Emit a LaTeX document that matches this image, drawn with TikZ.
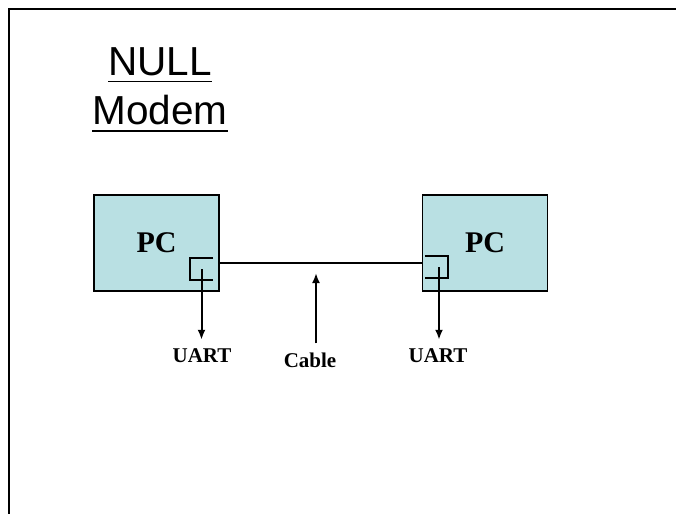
\documentclass[tikz,border=0pt]{standalone}
\usepackage{fontspec}
\setmainfont{Liberation Serif}
\newfontfamily\titlefont{Liberation Sans}
\usetikzlibrary{positioning, arrows.meta}
\definecolor{pccol}{RGB}{185, 224, 227}
\tikzset{
  pcbox/.style={draw, line width=1.5pt, fill=pccol, minimum width=125pt, minimum height=96pt,
                font=\fontsize{30}{36}\selectfont\bfseries},
  titletext/.style={inner sep=0pt, font=\titlefont\fontsize{40.5}{48}\selectfont},
  tag/.style={inner sep=9pt, font=\fontsize{21}{25}\selectfont\bfseries},
  port/.style={minimum width=23pt, minimum height=22pt, inner sep=0pt},
  flow/.style={-{Latex[length=10pt, width=8pt]}, line width=2pt},
  wire/.style={line width=2.5pt},
  uline/.style={line width=1.8pt},
}

\begin{document}
\begin{tikzpicture}[x=1pt, y=-1pt]
  \useasboundingbox (0,0) rectangle (676,514);
  \draw[line width=2.2pt] (676,9) -- (9,9) -- (9,514);

  % title
  \node[titletext, anchor=base] (null) at (160,75) {NULL};
  \node[titletext, anchor=base] (modem) at (160,124.5) {Modem};
  \draw[uline] ([yshift=-6.5pt]null.base west) -- ([yshift=-6.5pt]null.base east);
  \draw[uline] ([yshift=-6.5pt]modem.base west) -- ([yshift=-6.5pt]modem.base east);

  % the two PCs and the cable
  \node[pcbox] (pcl) at (156.5,243) {PC};
  \node[pcbox, right=202pt of pcl] (pcr) {PC};
  \draw[wire] ([yshift=-20pt]pcl.east) -- ([yshift=-20pt]pcr.west);

  % UART ports
  \node[port] (portl) at (201.5,269) {};
  \node[port] (portr) at (436.5,267) {};
  \draw[line width=1.5pt] (portl.north east) -- (portl.north west) -- (portl.south west) -- (portl.south east);
  \draw[line width=1.5pt] (portr.north west) -- (portr.north east) -- (portr.south east) -- (portr.south west);

  % labels
  \node[tag] (uartl) at (202,356) {UART};
  \node[tag] (uartr) at (438,356) {UART};
  \node[tag] (cab) at (310,360) {Cable};
  \coordinate (cabtip) at (316,273);

  \draw[flow] (portl.center) -- (portl.center |- uartl.north);
  \draw[flow] ([xshift=2.5pt]portr.center) -- ([xshift=2.5pt]portr.center |- uartr.north);
  \draw[flow] (cabtip |- cab.north) -- (cabtip);
\end{tikzpicture}
\end{document}
